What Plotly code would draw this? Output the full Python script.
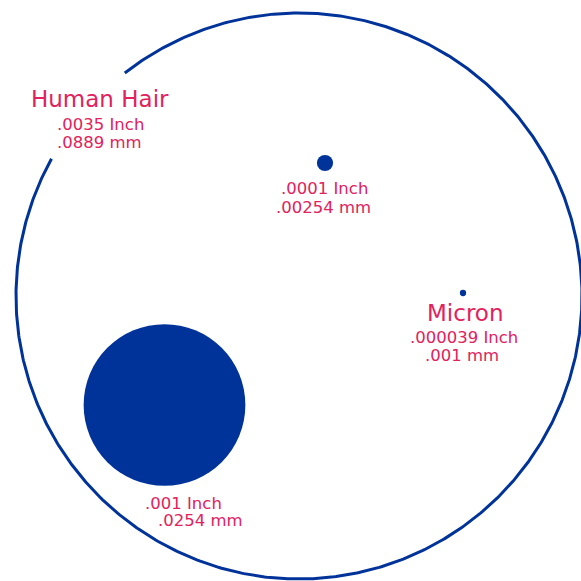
import numpy as np
import plotly.graph_objects as go

# ---- data ----
names = ["Human Hair", "", "", "Micron"]
size_inch = [0.0035, 0.001, 0.0001, 0.000039]
inch_labels = [".0035 Inch", ".001 Inch", ".0001 Inch", ".000039 Inch"]
mm_labels = [".0889 mm", ".0254 mm", ".00254 mm", ".001 mm"]

# ---- layout (pixel frame of a 581x581 canvas) ----
W = 581
HAIR_DIAM_PX = 566
px_per_inch = HAIR_DIAM_PX / size_inch[0]
centers = [(299, 296), (164.5, 405), (325, 163), (463, 293)]
BLUE = "#003399"
PINK = "#e2215d"
FONT = "DejaVu Sans"
BIG, SMALL = 23, 16.5

fig = go.Figure()

# Human hair outline (with a gap behind its label)
cx, cy = centers[0]
R = size_inch[0] * px_per_inch / 2
theta = np.radians(np.linspace(151, 128 + 360, 720))
fig.add_trace(go.Scatter(
    x=cx + R * np.cos(theta), y=cy - R * np.sin(theta),
    mode="lines", line=dict(color=BLUE, width=3), hoverinfo="skip",
    showlegend=False))

# filled circles
for (x, y), s in zip(centers[1:], size_inch[1:]):
    r = s * px_per_inch / 2
    fig.add_shape(type="circle", xref="x", yref="y",
                  x0=x - r, x1=x + r, y0=y - r, y1=y + r,
                  fillcolor=BLUE, line=dict(width=0))

# labels: (text, x, y, size, anchor)
label_pos = [
    [(names[0], 100, 99, BIG), (inch_labels[0], 55, 124, SMALL, "left"), (mm_labels[0], 55, 142, SMALL, "left")],
    [(inch_labels[1], 143, 503, SMALL, "left"), (mm_labels[1], 156, 520, SMALL, "left")],
    [(inch_labels[2], 324, 188, SMALL), (mm_labels[2], 323, 207, SMALL)],
    [(names[3], 465, 313, BIG), (inch_labels[3], 464, 337, SMALL), (mm_labels[3], 462, 355, SMALL)],
]
for group in label_pos:
    for item in group:
        text, x, y, size = item[:4]
        anchor = item[4] if len(item) > 4 else "center"
        fig.add_annotation(x=x, y=y, xref="x", yref="y", text=text,
                           showarrow=False, xanchor=anchor, yanchor="middle",
                           font=dict(family=FONT, size=size, color=PINK))

fig.update_layout(
    width=W, height=W, margin=dict(l=0, r=0, t=0, b=0),
    paper_bgcolor="white", plot_bgcolor="white",
    xaxis=dict(range=[0, W], visible=False, fixedrange=True),
    yaxis=dict(range=[W, 0], visible=False, fixedrange=True),
    hovermode=False, showlegend=False,
)
fig.write_html("out.html", config={"displayModeBar": False},
               post_script="document.body.style.margin='0';document.body.style.overflow='hidden';")
